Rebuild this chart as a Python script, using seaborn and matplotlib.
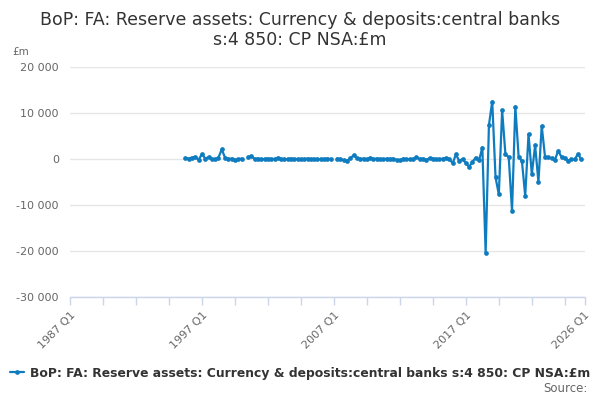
import numpy as np
import pandas as pd
import matplotlib
matplotlib.use("Agg")
import matplotlib.pyplot as plt
import seaborn as sns
from matplotlib.lines import Line2D
from matplotlib.ticker import FuncFormatter

# quarterly values, 1995 Q4 .. 2025 Q4 (NaN = missing)
start_year = 1995
start_quarter = 4
values = [
    150,                        # 1995 Q4
    100, 300, 500, -200,        # 1996
    1100, 100, 400, 0,          # 1997
    -100, 300, 2100, 300,       # 1998
    0, 100, -200, -100,         # 1999
    100, np.nan, 400, 600,      # 2000
    0, 100, -100, 0,            # 2001
    100, 0, 0, 300,             # 2002
    0, -100, 0, 100,            # 2003
    0, 0, -100, 0,              # 2004
    100, 0, 0, -100,            # 2005
    0, 0, 100, 0,               # 2006
    np.nan, 100, 0, -300,       # 2007
    -400, 200, 800, 200,        # 2008
    0, 100, -100, 300,          # 2009
    0, 100, 0, -100,            # 2010
    100, 0, 100, -200,          # 2011
    -300, 100, 0, -100,         # 2012
    0, 400, 0, 100,             # 2013
    -200, 200, 100, 0,          # 2014
    -100, 100, 200, 0,          # 2015
    -930, 1000, -430, 0,        # 2016
    -900, -1700, -600, 300,     # 2017
    -300, 2500, -20400, 7400,   # 2018
    12500, -4000, -7700, 10600, # 2019
    1000, 400, -11300, 11400,   # 2020
    500, -500, -8000, 5400,     # 2021
    -3300, 3000, -5000, 7200,   # 2022
    500, 400, 150, -200,        # 2023
    1800, 400, 150, -400,       # 2024
    -100, -100, 1100, -100,     # 2025
]
tick_labels = ["1987 Q1", "1997 Q1", "2007 Q1", "2017 Q1", "2026 Q1"]
y_ticks = [-30000, -20000, -10000, 0, 10000, 20000]

series_name = "BoP: FA: Reserve assets: Currency & deposits:central banks s:4 850: CP NSA:£m"
title = "BoP: FA: Reserve assets: Currency & deposits:central banks\ns:4 850: CP NSA:£m"

n = len(values)
t = start_year + (start_quarter - 1) / 4 + np.arange(n) / 4
df = pd.DataFrame({"t": t, "value": values})
df["segment"] = df["value"].isna().cumsum()
df = df.dropna()

def label_pos(lbl):
    y, q = lbl.split(" Q")
    return int(y) + (int(q) - 1) / 4

blue = "#0f7cc0"
sns.set_theme(style="white")
plt.rcParams["font.family"] = ["DejaVu Sans"]

fig = plt.figure(figsize=(6, 4), dpi=100)
ax = fig.add_axes([70 / 600, 1 - 297 / 400, (584.6 - 70) / 600, (297 - 67) / 400])

sns.lineplot(data=df, x="t", y="value", units="segment", estimator=None,
             color=blue, linewidth=1.6, marker="o", markersize=3.4,
             markeredgewidth=0, ax=ax, legend=False)

ax.set_xlim(1987, 2026)
ax.set_ylim(-30000, 20000)
ax.set_yticks(y_ticks)
ax.yaxis.set_major_formatter(FuncFormatter(lambda v, p: f"{int(v):,}".replace(",", " ")))
ax.grid(axis="y", color="#e6e6e6", linewidth=1)
ax.grid(axis="x", visible=False)
for s in ["left", "right", "top"]:
    ax.spines[s].set_visible(False)
ax.spines["bottom"].set_color("#ccd6eb")
ax.spines["bottom"].set_linewidth(1)

major = [label_pos(l) for l in tick_labels]
minor = [1987 + 2.5 * i for i in range(16)]
ax.set_xticks(major)
ax.set_xticklabels(tick_labels, rotation=45, ha="right", rotation_mode="anchor")
ax.set_xticks([m for m in minor if m not in major], minor=True)
ax.tick_params(axis="x", which="both", length=6, width=1, color="#ccd6eb",
               labelsize=8, labelcolor="#666666", pad=3.5, bottom=True)
ax.tick_params(axis="y", length=0, labelsize=8, labelcolor="#666666", pad=8)
ax.set_xlabel("")
ax.set_ylabel("")

fig.text(0.5, 1 - 30 / 400, title, ha="center", va="center", fontsize=12.5,
         color="#333333", linespacing=1.1)
fig.text(12 / 600, 1 - 52 / 400, "£m", ha="left", va="center", fontsize=7.5,
         color="#666666")

handle = Line2D([], [], color=blue, linewidth=1.6, marker="o", markersize=3.4,
                markeredgewidth=0)
fig.legend([handle], [series_name], loc="center", bbox_to_anchor=(0.5, 1 - 373 / 400),
           frameon=False, handlelength=1.1, handletextpad=0.5,
           prop={"weight": "bold", "size": 8.9}, labelcolor="#333333")
fig.text(588 / 600, 1 - 389 / 400, "Source:", ha="right", va="center", fontsize=8.5,
         color="#666666")

fig.savefig("out.png", dpi=100)
